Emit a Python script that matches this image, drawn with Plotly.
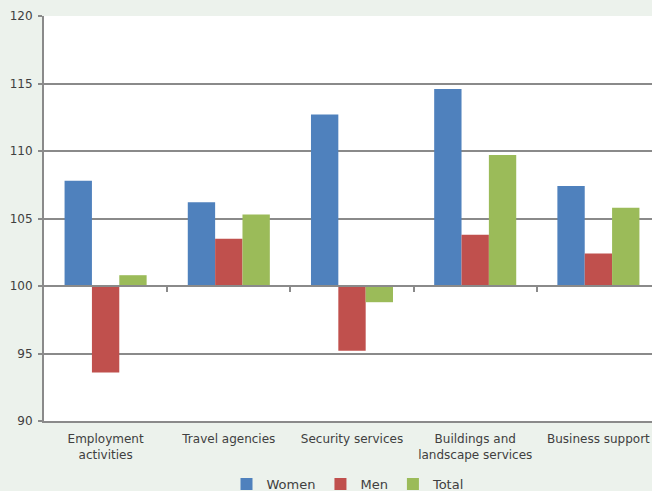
import plotly.graph_objects as go

# Index values (100 = base year) by industry and sex
categories = ["Employment<br>activities", "Travel agencies", "Security services",
              "Buildings and<br>landscape services", "Business support"]
women = [107.8, 106.2, 112.7, 114.6, 107.4]
men = [93.6, 103.5, 95.2, 103.8, 102.4]
total = [100.8, 105.3, 98.8, 109.7, 105.8]
y_ticks = [90, 95, 100, 105, 110, 115, 120]
base = 100

grid = "#8a8a8a"
text_col = "#404040"
font_family = "DejaVu Sans, Verdana, sans-serif"

# The last category runs slightly past the right edge of the page
x_range = [-0.5, len(categories) - 0.565]

fig = go.Figure()
for name, vals, col in [("Women", women, "#4F81BD"),
                        ("Men", men, "#C0504D"),
                        ("Total", total, "#9BBB59")]:
    fig.add_trace(go.Bar(
        name=name, x=categories, y=[v - base for v in vals], base=base,
        marker=dict(color=col, line=dict(width=0)),
        customdata=vals, hovertemplate="%{x}: %{customdata}<extra>" + name + "</extra>",
    ))

# Empty trace so the baseline axis at 100 gets drawn
fig.add_trace(go.Scatter(x=[], y=[], xaxis="x2", showlegend=False, hoverinfo="skip"))

fig.update_layout(
    width=652, height=491,
    margin=dict(l=44, r=0, t=16, b=70, autoexpand=False),
    paper_bgcolor="#ecf2ec",
    plot_bgcolor="#ffffff",
    barmode="group",
    bargap=0.334,
    bargroupgap=0,
    font=dict(family=font_family, size=12, color=text_col),
    showlegend=True,
    legend=dict(orientation="h", x=0.5, xanchor="center",
                yref="container", y=7 / 491, yanchor="middle",
                font=dict(size=13, color=text_col), bgcolor="rgba(0,0,0,0)",
                itemwidth=30, tracegroupgap=0),
    xaxis=dict(range=x_range, showgrid=False, showline=True, linecolor=grid, linewidth=2,
               ticks="outside", ticklen=6, tickcolor="rgba(0,0,0,0)",
               tickfont=dict(size=12, color=text_col), automargin=False),
    xaxis2=dict(overlaying="x", anchor="free", position=(base - y_ticks[0]) / (y_ticks[-1] - y_ticks[0]),
                type="linear", range=x_range,
                tickvals=[i + 0.5 for i in range(len(categories) - 1)],
                showticklabels=False, ticks="outside", ticklen=5, tickwidth=2, tickcolor=grid,
                showline=True, linecolor=grid, linewidth=2, showgrid=False, zeroline=False),
    yaxis=dict(range=[y_ticks[0], y_ticks[-1]], tickvals=y_ticks, domain=[0, 1],
               showgrid=True, gridcolor=grid, gridwidth=2, zeroline=False,
               showline=True, linecolor=grid, linewidth=2,
               ticks="outside", ticklen=4, tickwidth=2, tickcolor=grid,
               ticklabelstandoff=3, automargin=False,
               tickfont=dict(size=12, color=text_col)),
)

fig.write_html("out.html")
